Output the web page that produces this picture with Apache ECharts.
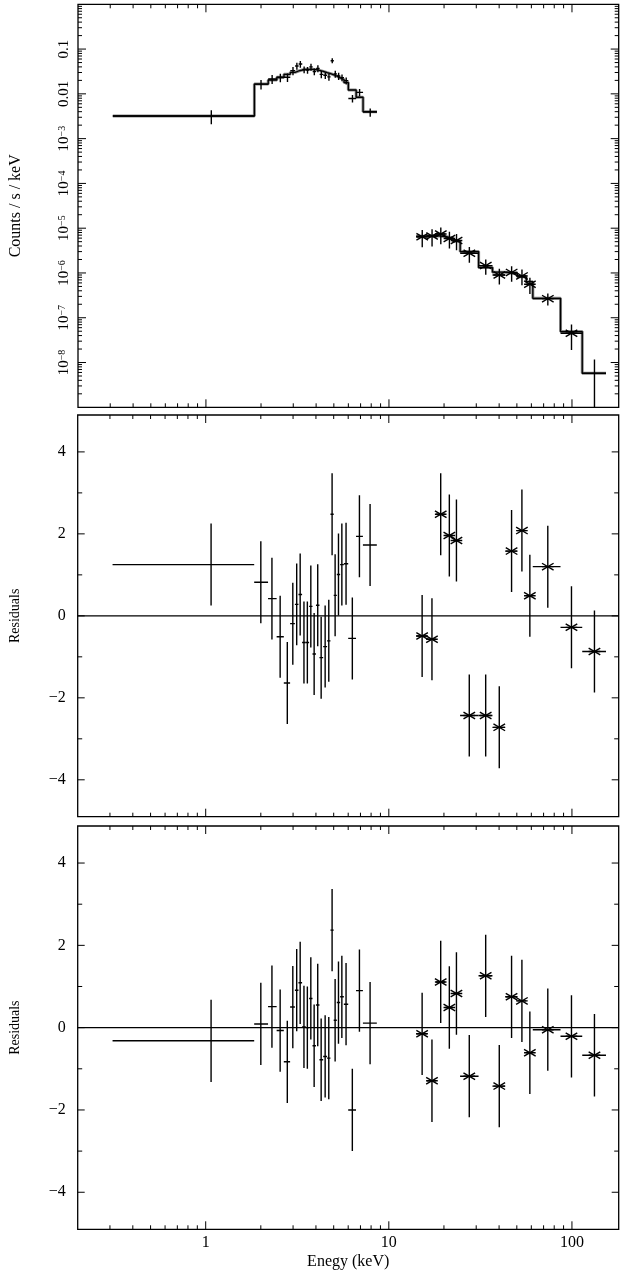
<!DOCTYPE html>
<html>
<head>
<meta charset="utf-8">
<script src="https://cdn.jsdelivr.net/npm/echarts/dist/echarts.min.js"></script>
<style>html,body{margin:0;padding:0;background:#fff}#c{width:620px;height:1273px}</style>
</head>
<body>
<div id="c"></div>
<script>
// ---------- axis ranges ----------
const X_MIN = 0.2, X_MAX = 180;
const Y_TOP_MIN = 1e-9, Y_TOP_MAX = 1;
const RES_MIN = -4.9, RES_MAX = 4.9;

// ---------- soft-band data (crosses) ----------
const softEnergy   = [1.07, 2.0, 2.30, 2.55, 2.79, 2.99, 3.14, 3.28, 3.44, 3.59, 3.75, 3.91, 4.09, 4.27, 4.49, 4.70, 4.90, 5.09, 5.31, 5.54, 5.84, 6.32, 6.91, 7.90];
const softBinEdges = [0.31, 1.84, 2.19, 2.44, 2.67, 2.89, 3.07, 3.21, 3.36, 3.52, 3.67, 3.83, 4.0, 4.18, 4.38, 4.60, 4.80, 5.0, 5.2, 5.42, 5.68, 6.0, 6.62, 7.22, 8.6];
const softRate     = [0.0032, 0.0165, 0.0215, 0.0232, 0.0235, 0.033, 0.0419, 0.0465, 0.0347, 0.034, 0.040, 0.0314, 0.037, 0.0273, 0.026, 0.024, 0.055, 0.028, 0.025, 0.023, 0.0197, 0.0079, 0.0108, 0.0039];
const softRateErr  = [0.0011, 0.004, 0.005, 0.005, 0.005, 0.007, 0.0075, 0.008, 0.006, 0.006, 0.007, 0.0055, 0.0065, 0.005, 0.0045, 0.0045, 0.007, 0.005, 0.0045, 0.004, 0.0035, 0.0015, 0.002, 0.0008];
const softModel    = [0.0032, 0.0165, 0.0204, 0.0235, 0.0273, 0.0303, 0.0324, 0.034, 0.0353, 0.0353, 0.0353, 0.0347, 0.0335, 0.0318, 0.0297, 0.0282, 0.0267, 0.0249, 0.0228, 0.0209, 0.0179, 0.0122, 0.0084, 0.0040];
const softResidA   = [1.25, 0.82, 0.42, -0.51, -1.64, -0.19, 0.28, 0.52, -0.65, -0.65, 0.23, -0.93, 0.26, -1.02, -0.75, -0.61, 2.48, 0.50, 1.01, 1.25, 1.27, -0.55, 1.94, 1.73];
const softResidB   = [-0.32, 0.09, 0.51, -0.07, -0.83, 0.50, 0.91, 1.09, 0.02, 0.0, 0.71, -0.44, 0.55, -0.78, -0.70, -0.74, 2.37, 0.18, 0.61, 0.75, 0.57, -2.0, 0.90, 0.11];
const softResidErr = [1, 1, 1, 1, 1, 1, 1, 1, 1, 1, 1, 1, 1, 1, 1, 1, 1, 1, 1, 1, 1, 1, 1, 1];

// ---------- hard-band data (stars) ----------
const hardEnergy   = [15.2, 17.2, 19.2, 21.4, 23.4, 27.5, 33.8, 40.1, 46.8, 53.3, 58.9, 73.8, 99.4, 132.7];
const hardBinEdges = [14.1, 16.1, 18.1, 20.3, 22.4, 24.5, 30.9, 36.8, 43.2, 50.3, 56.3, 61.1, 86.6, 113.8, 153.4];
const hardRate     = [6.45e-6, 6.7e-6, 7.4e-6, 5.9e-6, 5.3e-6, 2.75e-6, 1.46e-6, 9.0e-7, 1.03e-6, 8.6e-7, 5.6e-7, 2.67e-7, 4.5e-8, 5.75e-9];
const hardRateErr  = [2.7e-6, 2.8e-6, 3.0e-6, 2.4e-6, 2.1e-6, 1.05e-6, 5.5e-7, 3.5e-7, 3.9e-7, 3.3e-7, 2.2e-7, 8e-8, 2.6e-8, 5.9e-9];
const hardModel    = [6.6e-6, 6.8e-6, 6.5e-6, 6.0e-6, 5.1e-6, 3.0e-6, 1.32e-6, 1.04e-6, 9.5e-7, 8.2e-7, 6.4e-7, 2.72e-7, 4.9e-8, 5.75e-9];
const hardResidA   = [-0.49, -0.57, 2.48, 1.96, 1.84, -2.43, -2.43, -2.72, 1.58, 2.08, 0.49, 1.20, -0.28, -0.87];
const hardResidB   = [-0.15, -1.29, 1.11, 0.49, 0.83, -1.18, 1.26, -1.42, 0.75, 0.65, -0.61, -0.05, -0.21, -0.67];
const hardResidErr = [1, 1, 1, 1, 1, 1, 1, 1, 1, 1, 1, 1, 1, 1];

// ---------- ticks ----------
const xMajorTicks = [1, 10, 100];
const xMinorTicks = [0.3, 0.4, 0.5, 0.6, 0.7, 0.8, 0.9, 2, 3, 4, 5, 6, 7, 8, 9, 20, 30, 40, 50, 60, 70, 80, 90];
const xTickLabels = ['1', '10', '100'];
const yTopMajorTicks = [1e-8, 1e-7, 1e-6, 1e-5, 1e-4, 1e-3, 1e-2, 1e-1];
const yTopMinorMult = [2, 3, 4, 5, 6, 7, 8, 9];
const yTopDecades = [1e-9, 1e-8, 1e-7, 1e-6, 1e-5, 1e-4, 1e-3, 1e-2, 1e-1];
const resMajorTicks = [-4, -2, 0, 2, 4];
const resMinorTicks = [-3, -1, 1, 3];

const FONT = '"Liberation Serif", "Times New Roman", serif';
const yTopMinorTicks = [];
yTopDecades.forEach(d => yTopMinorMult.forEach(m => yTopMinorTicks.push(m * d)));

// ---------- helpers ----------
function stepLine(edges, vals) {
  const pts = [];
  for (let i = 0; i < vals.length; i++) {
    pts.push([edges[i], vals[i]]);
    pts.push([edges[i + 1], vals[i]]);
  }
  return pts;
}
function errData(xs, edges, ys, errs, floor, starFn) {
  return xs.map((x, i) => [x, ys[i], edges[i], edges[i + 1],
    Math.max(ys[i] - errs[i], floor), ys[i] + errs[i], starFn(i) ? 1 : 0]);
}
function errRenderer(params, api) {
  const x = api.value(0), y = api.value(1);
  const c = api.coord([x, y]);
  const a = api.coord([api.value(2), y]);
  const b = api.coord([api.value(3), y]);
  const lo = api.coord([x, api.value(4)]);
  const hi = api.coord([x, api.value(5)]);
  const st = { stroke: '#000', lineWidth: 1.4 };
  const ch = [
    { type: 'line', shape: { x1: a[0], y1: c[1], x2: b[0], y2: c[1] }, style: st },
    { type: 'line', shape: { x1: c[0], y1: lo[1], x2: c[0], y2: hi[1] }, style: st }
  ];
  if (api.value(6)) {
    const dx = 5.8, dy = 3.4;
    ch.push({ type: 'line', shape: { x1: c[0] - dx, y1: c[1] - dy, x2: c[0] + dx, y2: c[1] + dy }, style: st });
    ch.push({ type: 'line', shape: { x1: c[0] - dx, y1: c[1] + dy, x2: c[0] + dx, y2: c[1] - dy }, style: st });
    ch.push({ type: 'line', shape: { x1: c[0] - dx, y1: c[1], x2: c[0] + dx, y2: c[1] }, style: st });
  }
  return { type: 'group', children: ch };
}
function tickRenderer(yMaj, yMin, yref, yMajLen, yMinLen) {
  return function (params, api) {
    const cs = params.coordSys;
    const l = cs.x, t = cs.y, r = cs.x + cs.width, b = cs.y + cs.height;
    const ch = [];
    const add = (x1, y1, x2, y2) => ch.push({ type: 'line', shape: { x1, y1, x2, y2 }, style: { stroke: '#000', lineWidth: 1 } });
    xMajorTicks.forEach(v => { const p = api.coord([v, yref])[0]; add(p, t, p, t + 8); add(p, b, p, b - 8); });
    xMinorTicks.forEach(v => { const p = api.coord([v, yref])[0]; add(p, t, p, t + 4); add(p, b, p, b - 4); });
    yMaj.forEach(v => { const p = api.coord([1, v])[1]; add(l, p, l + yMajLen, p); add(r, p, r - yMajLen, p); });
    yMin.forEach(v => { const p = api.coord([1, v])[1]; add(l, p, l + yMinLen, p); add(r, p, r - yMinLen, p); });
    return { type: 'group', children: ch };
  };
}
function logLabel(v) {
  const e = Math.round(Math.log10(v));
  if (e === -1) return '0.1';
  if (e === -2) return '0.01';
  return '10{s|\u2212' + (-e) + '}';
}
function resLabel(v) {
  const r = Math.round(v);
  if (Math.abs(v - r) > 1e-6) return '';
  return r < 0 ? '\u2212' + (-r) : String(r);
}
function xLabel(v) {
  const e = Math.log10(v);
  if (Math.abs(e - Math.round(e)) > 1e-6) return '';
  const i = xMajorTicks.indexOf(Math.round(Math.pow(10, Math.round(e))));
  return i >= 0 ? xTickLabels[i] : '';
}

const L = 77.7, W = 541;
const grids = [
  { left: L, top: 4.3, width: W, height: 403 },
  { left: L, top: 415, width: W, height: 401.7 },
  { left: L, top: 826, width: W, height: 403.3 }
].map(g => Object.assign(g, { show: true, borderColor: '#000', borderWidth: 1.3, backgroundColor: 'transparent' }));

const xAxes = [0, 1, 2].map(i => ({
  gridIndex: i, type: 'log', logBase: 10, min: X_MIN, max: X_MAX,
  axisLine: { show: false }, axisTick: { show: false }, splitLine: { show: false },
  axisLabel: { show: i === 2, formatter: xLabel, color: '#000', fontFamily: FONT, fontSize: 16, margin: 5, showMinLabel: false, showMaxLabel: false },
  name: i === 2 ? 'Enegy (keV)' : '', nameLocation: 'middle', nameGap: 24,
  nameTextStyle: { color: '#000', fontFamily: FONT, fontSize: 16 }
}));

const resYAxis = (i) => ({
  gridIndex: i, type: 'value', min: RES_MIN, max: RES_MAX,
  axisLine: { show: false }, axisTick: { show: false }, splitLine: { show: false },
  axisLabel: { formatter: resLabel, color: '#000', fontFamily: FONT, fontSize: 16, margin: 12, showMinLabel: false, showMaxLabel: false },
  name: 'Residuals', nameLocation: 'middle', nameGap: 55, nameRotate: 90,
  nameTextStyle: { color: '#000', fontFamily: FONT, fontSize: 14 }
});
const yAxes = [
  {
    gridIndex: 0, type: 'log', logBase: 10, min: Y_TOP_MIN, max: Y_TOP_MAX,
    axisLine: { show: false }, axisTick: { show: false }, splitLine: { show: false },
    axisLabel: {
      formatter: logLabel, rotate: 90, color: '#000', fontFamily: FONT, fontSize: 15, margin: 6,
      showMinLabel: false, showMaxLabel: false,
      rich: { s: { fontSize: 10, fontFamily: FONT, color: '#000', verticalAlign: 'top', lineHeight: 10 } }
    },
    name: 'Counts / s / keV', nameLocation: 'middle', nameGap: 54, nameRotate: 90,
    nameTextStyle: { color: '#000', fontFamily: FONT, fontSize: 16 }
  },
  resYAxis(1), resYAxis(2)
];

const greyModel = { color: '#8a8a8a', width: 3 };
const blackModel = { color: '#000', width: 1.3 };
function lineSeries(i, data, ls, z) {
  return { type: 'line', xAxisIndex: i, yAxisIndex: i, data: data, showSymbol: false, symbol: 'none',
    lineStyle: ls, itemStyle: { color: ls.color }, z: z, clip: true, animation: false, silent: true };
}
function errSeries(i, data) {
  return { type: 'custom', xAxisIndex: i, yAxisIndex: i, data: data, renderItem: errRenderer,
    encode: { x: 0, y: 1 }, clip: true, z: 5, animation: false, silent: true };
}
function tickSeries(i, yMaj, yMin, yref, ml, nl) {
  return { type: 'custom', xAxisIndex: i, yAxisIndex: i, data: [[1, yref]], renderItem: tickRenderer(yMaj, yMin, yref, ml, nl),
    encode: { x: 0, y: 1 }, clip: false, z: 6, animation: false, silent: true };
}

const softStep = stepLine(softBinEdges, softModel);
const hardStep = stepLine(hardBinEdges, hardModel);
const zeroLine = [[X_MIN, 0], [X_MAX, 0]];
const lastHard = hardEnergy.length - 1;

const series = [
  lineSeries(0, softStep, greyModel, 2), lineSeries(0, softStep, blackModel, 3),
  lineSeries(0, hardStep, greyModel, 2), lineSeries(0, hardStep, blackModel, 3),
  errSeries(0, errData(softEnergy, softBinEdges, softRate, softRateErr, Y_TOP_MIN, () => false)),
  errSeries(0, errData(hardEnergy, hardBinEdges, hardRate, hardRateErr, Y_TOP_MIN, i => i !== lastHard)),
  lineSeries(1, zeroLine, blackModel, 3),
  errSeries(1, errData(softEnergy, softBinEdges, softResidA, softResidErr, -99, () => false)),
  errSeries(1, errData(hardEnergy, hardBinEdges, hardResidA, hardResidErr, -99, () => true)),
  lineSeries(2, zeroLine, blackModel, 3),
  errSeries(2, errData(softEnergy, softBinEdges, softResidB, softResidErr, -99, () => false)),
  errSeries(2, errData(hardEnergy, hardBinEdges, hardResidB, hardResidErr, -99, () => true)),
  tickSeries(0, yTopMajorTicks, yTopMinorTicks, 1e-4, 8, 4),
  tickSeries(1, resMajorTicks, resMinorTicks, 0, 7, 4.5),
  tickSeries(2, resMajorTicks, resMinorTicks, 0, 7, 4.5)
];

const chart = echarts.init(document.getElementById('c'), null, { renderer: 'canvas' });
chart.setOption({
  animation: false,
  backgroundColor: '#fff',
  textStyle: { fontFamily: FONT },
  grid: grids, xAxis: xAxes, yAxis: yAxes, series: series
});
</script>
</body>
</html>
